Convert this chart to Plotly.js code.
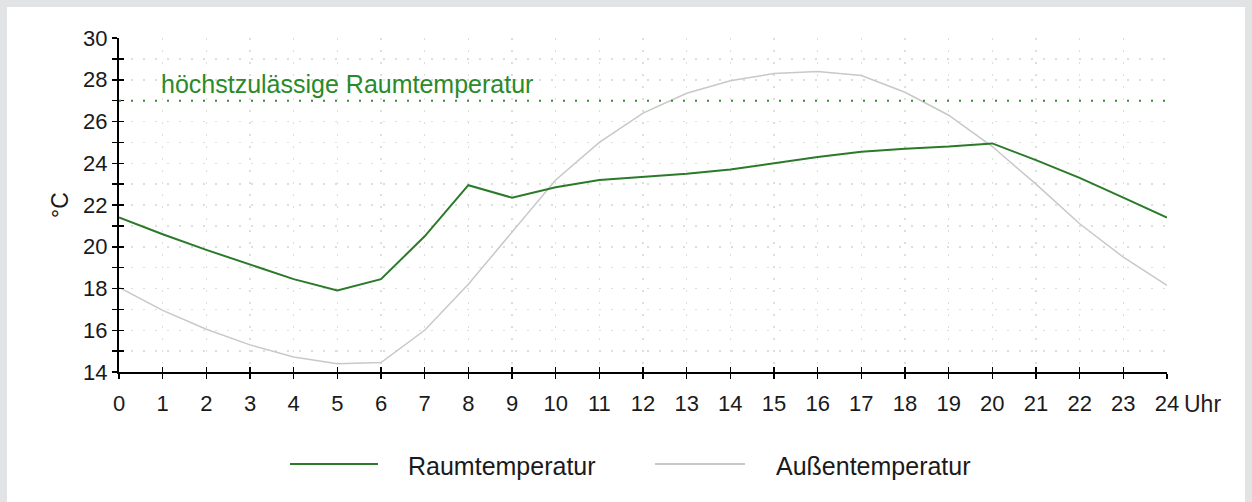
<!DOCTYPE html>
<html>
<head>
<meta charset="utf-8">
<script src="https://cdn.plot.ly/plotly-3.0.1.min.js"></script>
<style>
  html, body { margin: 0; padding: 0; background: #e2e3e5; width: 1252px; height: 502px; overflow: hidden; }
  #chart { position: absolute; left: 7px; top: 7px; width: 1238px; height: 495px; background: #ffffff; }
</style>
</head>
<body>
<div id="chart"></div>
<script>
// Hours of the day
const hours = [0,1,2,3,4,5,6,7,8,9,10,11,12,13,14,15,16,17,18,19,20,21,22,23,24];
// Room temperature (°C)
const raumtemperatur = [21.4,20.6,19.85,19.15,18.45,17.9,18.45,20.5,22.95,22.35,22.85,23.2,23.35,23.5,23.7,24.0,24.3,24.55,24.7,24.8,24.95,24.15,23.3,22.35,21.4];
// Outdoor temperature (°C)
const aussentemperatur = [18.05,16.95,16.05,15.3,14.72,14.4,14.45,16.0,18.2,20.7,23.2,25.0,26.4,27.35,27.95,28.3,28.4,28.2,27.4,26.3,24.8,23.0,21.1,19.5,18.15];
// Maximum permissible room temperature
const maxRaumtemperatur = 27;
const seriesNames = ['Raumtemperatur', 'Außentemperatur'];
const thresholdLabel = 'höchstzulässige Raumtemperatur';
const xUnit = 'Uhr';
const yUnit = '°C';

const green = '#2a7a2a';
const gray = '#c8c8c8';
const font = 'Liberation Sans, Arial, sans-serif';
const gridStyle = { gridcolor: '#dedede', gridwidth: 1.5, griddash: '1.5px,10.5px' };

const traces = [
  { x: hours, y: aussentemperatur, name: seriesNames[1], type: 'scatter', mode: 'lines',
    line: { color: gray, width: 1.5 }, showlegend: false, hoverinfo: 'x+y' },
  { x: hours, y: raumtemperatur, name: seriesNames[0], type: 'scatter', mode: 'lines',
    line: { color: green, width: 2 }, showlegend: false, hoverinfo: 'x+y' },
  { x: [hours[0]], y: [maxRaumtemperatur], xaxis: 'x2', yaxis: 'y2', type: 'scatter', mode: 'markers',
    marker: { opacity: 0 }, showlegend: false, hoverinfo: 'skip' }
];

const layout = {
  width: 1238, height: 495,
  margin: { l: 112, r: 78, t: 31, b: 130 },
  paper_bgcolor: '#ffffff', plot_bgcolor: '#ffffff',
  font: { family: font, color: '#1a1a1a', size: 22 },
  showlegend: false,
  xaxis: {
    range: [0, 24], tickmode: 'linear', tick0: 0, dtick: 1,
    showline: true, linecolor: '#000', linewidth: 2,
    ticks: 'outside', ticklen: 5, tickwidth: 1.5, tickcolor: '#000',
    ticklabelstandoff: 6,
    tickfont: { size: 22, color: '#1a1a1a' },
    showgrid: true, ...gridStyle, zeroline: false, fixedrange: true
  },
  yaxis: {
    range: [14, 30], tickmode: 'linear', tick0: 14, dtick: 2,
    showline: true, linecolor: '#000', linewidth: 2,
    ticks: 'outside', ticklen: 5, tickwidth: 1.5, tickcolor: '#000',
    tickfont: { size: 22, color: '#1a1a1a' },
    showgrid: true, ...gridStyle, zeroline: false, fixedrange: true,
    minor: { dtick: 1, ticks: 'outside', ticklen: 5, tickwidth: 1.5, tickcolor: '#000', showgrid: true, ...gridStyle },
    title: { text: yUnit, font: { size: 23, color: '#1a1a1a' }, standoff: 8 }
  },
  xaxis2: {
    overlaying: 'x', anchor: 'y2', range: [0, 24], tickmode: 'linear', tick0: 0, dtick: 1,
    ticks: 'inside', ticklen: 5, tickwidth: 1.5, tickcolor: '#000', showticklabels: false,
    showline: false, showgrid: false, zeroline: false, side: 'bottom', fixedrange: true
  },
  yaxis2: {
    overlaying: 'y', anchor: 'x2', range: [14, 30], tickmode: 'linear', tick0: 14, dtick: 1,
    ticks: 'inside', ticklen: 5, tickwidth: 1.5, tickcolor: '#000', showticklabels: false,
    showline: false, showgrid: false, zeroline: false, side: 'left', fixedrange: true
  },
  shapes: [
    { type: 'line', xref: 'x', yref: 'y', x0: hours[0], x1: hours[hours.length - 1], y0: maxRaumtemperatur, y1: maxRaumtemperatur,
      line: { color: '#3a8a3a', width: 2, dash: '2px,10px' } },
    // legend samples
    { type: 'line', xref: 'paper', yref: 'paper', x0: 0.1632, x1: 0.2471, y0: -0.2754, y1: -0.2754,
      line: { color: green, width: 2 } },
    { type: 'line', xref: 'paper', yref: 'paper', x0: 0.5115, x1: 0.5973, y0: -0.2754, y1: -0.2754,
      line: { color: gray, width: 2 } }
  ],
  annotations: [
    { text: thresholdLabel, xref: 'paper', yref: 'y', x: 0.038, y: 27.8, xanchor: 'left', yanchor: 'middle',
      showarrow: false, font: { size: 25, color: '#2a8a2a' } },
    { text: xUnit, xref: 'paper', yref: 'paper', x: 1.014, y: -0.096, xanchor: 'left', yanchor: 'middle',
      showarrow: false, font: { size: 23, color: '#2a1a1a' } },
    { text: seriesNames[0], xref: 'paper', yref: 'paper', x: 0.2738, y: -0.281, xanchor: 'left', yanchor: 'middle',
      showarrow: false, font: { size: 25, color: '#1a1a1a' } },
    { text: seriesNames[1], xref: 'paper', yref: 'paper', x: 0.625, y: -0.281, xanchor: 'left', yanchor: 'middle',
      showarrow: false, font: { size: 25, color: '#1a1a1a' } }
  ]
};

Plotly.newPlot('chart', traces, layout, { displayModeBar: false, staticPlot: true });
</script>
</body>
</html>
